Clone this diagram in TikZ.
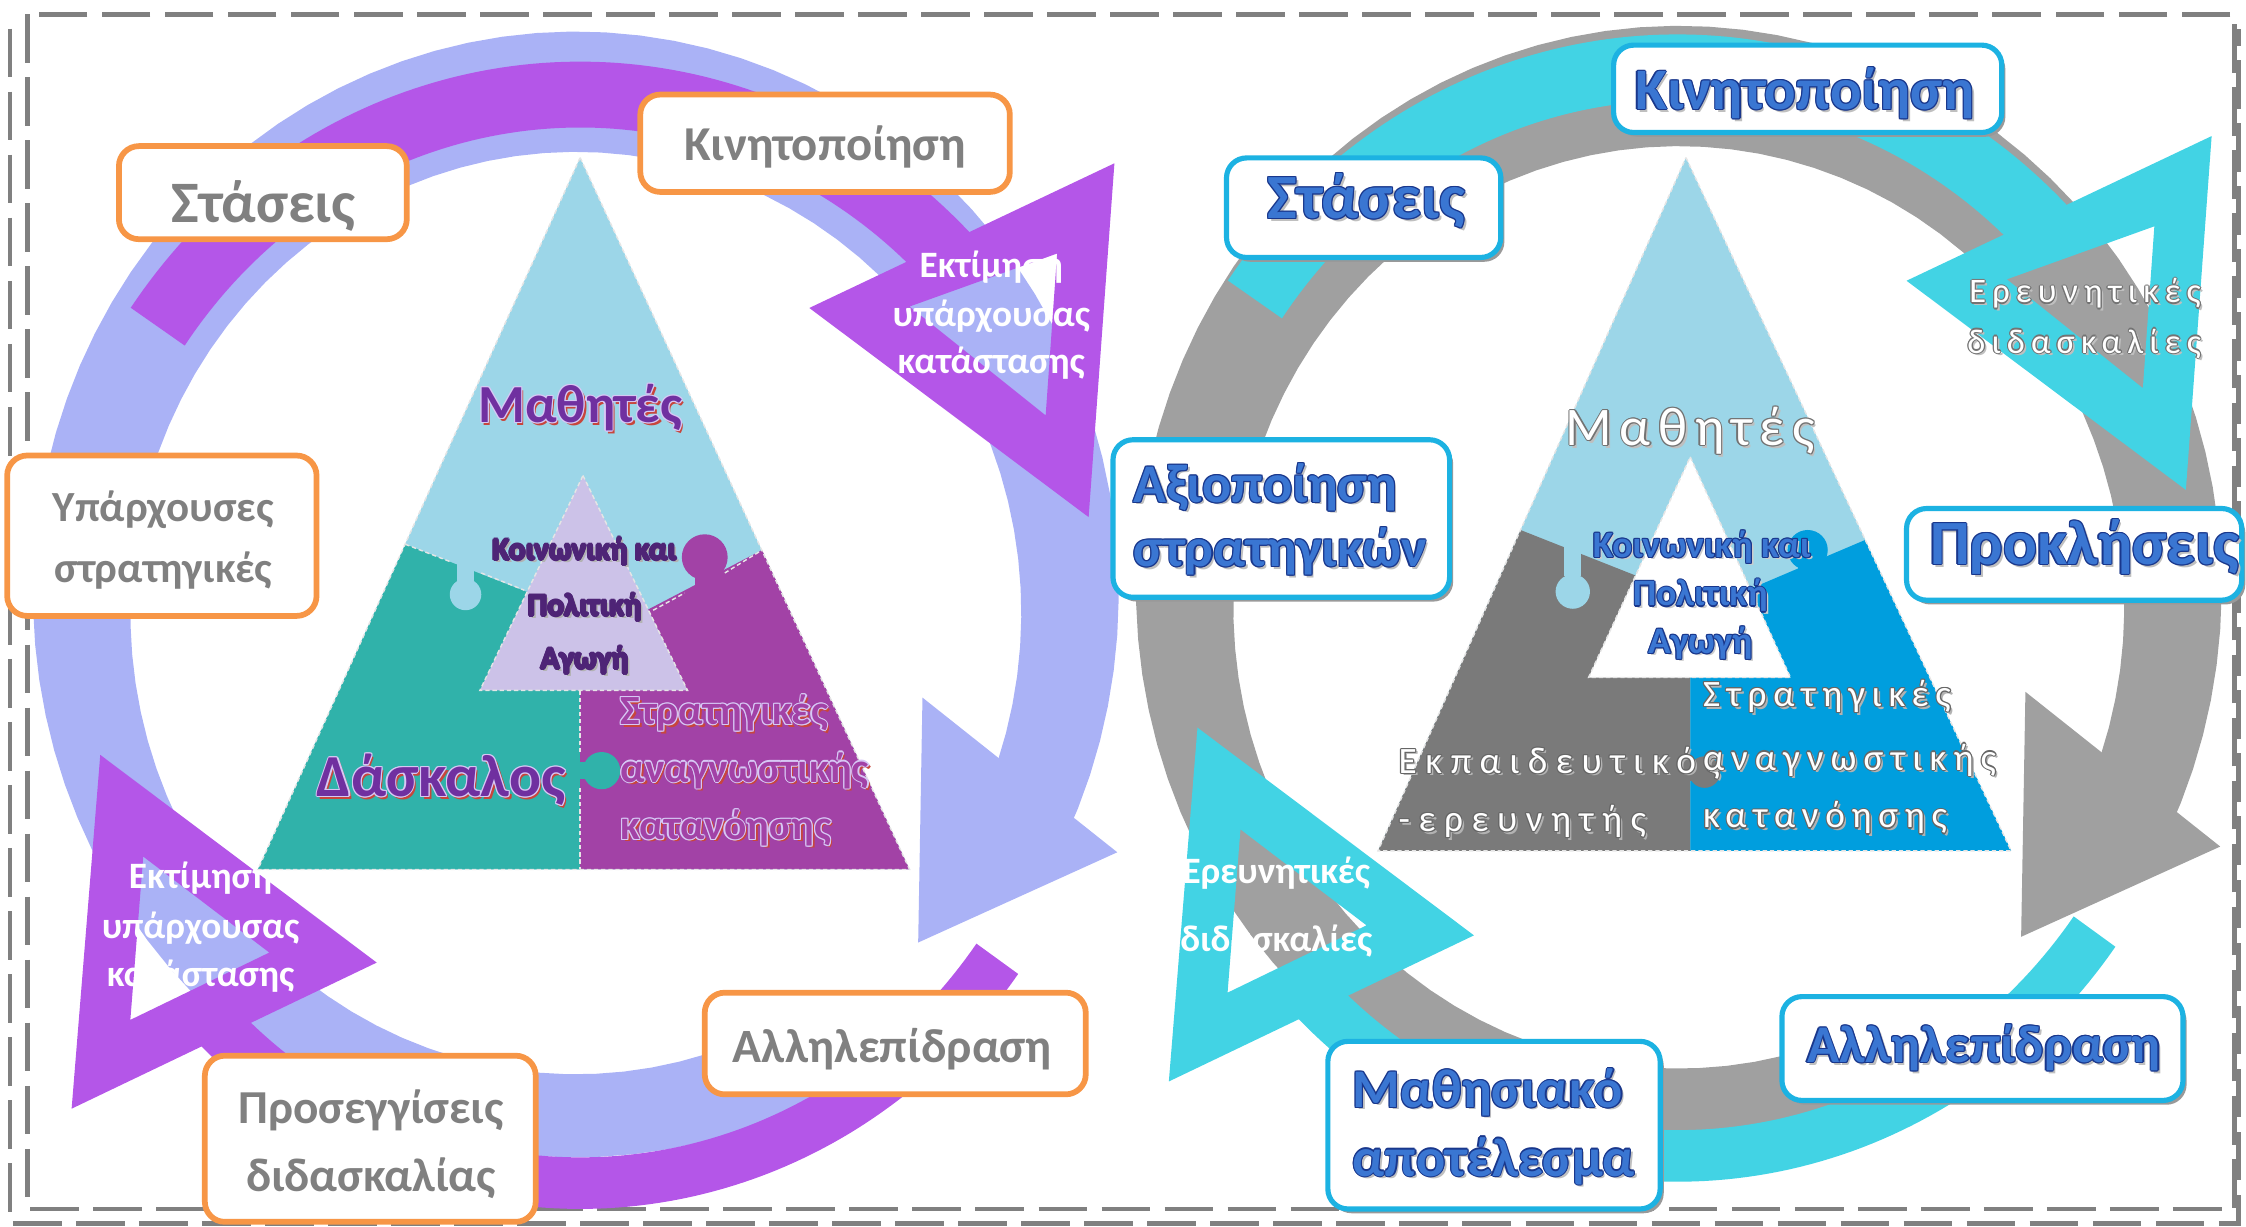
\documentclass[tikz,border=0pt]{standalone}
\usepackage{fontspec}
\setmainfont{Carlito}
\usetikzlibrary{calc}
\definecolor{lav}{RGB}{170,178,246}
\definecolor{purp}{RGB}{180,86,232}
\definecolor{orng}{RGB}{247,150,70}
\definecolor{gtxt}{RGB}{128,128,128}
\definecolor{lblue}{RGB}{156,214,232}
\definecolor{teal1}{RGB}{48,178,170}
\definecolor{purp2}{RGB}{162,66,166}
\definecolor{ilav}{RGB}{204,194,232}
\definecolor{wpurp}{RGB}{112,48,160}
\definecolor{wred}{RGB}{200,70,60}
\definecolor{lavtxt}{RGB}{215,200,245}
\definecolor{dtxt}{RGB}{78,36,118}
\definecolor{ring2}{RGB}{160,160,160}
\definecolor{cyan1}{RGB}{66,211,228}
\definecolor{gpiece}{RGB}{122,122,122}
\definecolor{bpiece}{RGB}{0,158,222}
\definecolor{cbord}{RGB}{28,178,226}
\definecolor{bfill}{RGB}{58,118,210}
\definecolor{bline}{RGB}{25,55,140}
\newcommand\fs[2]{\fontsize{#1}{#2}\selectfont}
% band between an outer and an inner ellipse (common centre x = \bcx)
\newcommand\bandx[9]{\fill[#1] plot[domain=#8:#9,samples=90] ({\bcx+#6*cos(\x)},{#2+#3*sin(\x)}) -- plot[domain=#9:#8,samples=90] ({\bcx+#7*cos(\x)},{#4+#5*sin(\x)}) -- cycle;}
\newcommand\wart[8]{%
 \node[anchor=#2,inner sep=0,font=#4,text=#7] (#1s) at ([shift={(1.8,1.8)}]#3) {#8};
 \foreach \ox/\oy [count=\k] in {-0.8/0,0.8/0,0/-0.8,0/0.8,-0.6/-0.6,0.6/0.6,-0.6/0.6,0.6/-0.6}
  {\node[anchor=#2,inner sep=0,font=#4,text=#6] (#1o\k) at ([shift={(\ox,\oy)}]#3) {#8};}
 \node[anchor=#2,inner sep=0,font=#4,text=#5] (#1) at (#3) {#8};}
\tikzset{
 obox/.style={draw=orng,line width=2pt,fill=white,rounded corners=7pt,inner sep=0},
 rbox/.style={draw=cbord,line width=1.8pt,fill=white,rounded corners=7pt,inner sep=0},
 rshadow/.style={fill=black!40,rounded corners=7pt,inner sep=0},
 piece/.style={draw=white!80!gray,line width=0.5pt,dash pattern=on 1.5pt off 1pt},
 frame/.style={draw=black!50,line width=1.7pt,dash pattern=on 17pt off 5pt},
 gl/.style={anchor=base,inner sep=0,text=gtxt,font=\bfseries\fs{#1}{#1}},
 wl/.style={anchor=base,inner sep=0,text=white,font=\bfseries\fs{#1}{#1}},
}
\newcommand\rbx[5]{\node[rshadow,minimum width=#4,minimum height=#5] (#1s) at (#2+2.5,#3+3) {};
 \node[rbox,minimum width=#4,minimum height=#5] (#1) at (#2,#3) {};}
% the ring with its arrowhead, and the two arcs with hollow heads
\newcommand\ringarrow[1]{%
 \def\bcx{402}
 \bandx{#1}{415}{393}{428}{322}{379}{311}{62}{386}
 \fill[#1] (644,487) -- (780,595) -- (641,658) -- cycle;}
\newcommand\arcarrows[1]{%
 \def\bcx{405}
 \bandx{#1}{446}{403}{446}{357}{383}{337}{215}{316}
 \fill[#1,even odd rule] (565,215) -- (778,114) -- (760,361) -- cycle (635,214) -- (738,177) -- (730,290) -- cycle;
 \bandx{#1}{446}{398}{446}{362}{378}{342}{36}{137}
 \fill[#1,even odd rule] (70,527) -- (263,672) -- (50,774) -- cycle (100,598) -- (188,665) -- (91,712) -- cycle;}
\begin{document}
\begin{tikzpicture}[x=0.5pt,y=-0.5pt]
\useasboundingbox (0,0) rectangle (1568,856);
% frame
\draw[frame] (19,10) rectangle (1560,844);
\draw[frame] (7,20) -- (7,854) -- (1563,854) -- (1563,20);

% ================= LEFT =================
\ringarrow{lav}
\arcarrows{purp}

% pyramid left
\fill[lblue] (405,110) -- (635,607) -- (180,607) -- cycle;
\fill[teal1] (283,380) -- (380,418) -- (405,424) -- (405,607) -- (180,607) -- cycle;
\fill[purp2] (440,432) -- (532,384) -- (635,607) -- (405,607) -- (405,424) -- cycle;
\fill[lblue] (319,390) rectangle (331,408);
\fill[lblue] (325,415) circle[radius=11];
\fill[purp2] (485,392) rectangle (499,410);
\fill[purp2] (492,389) circle[radius=16];
\fill[teal1] (400,532) rectangle (412,544);
\fill[teal1] (420,538) circle[radius=13];
\fill[ilav] (407,332) -- (480,482) -- (335,482) -- cycle;
\draw[piece] (405,110) -- (635,607) -- (180,607) -- cycle;
\draw[piece] (283,380) -- (314,392) (336,400) -- (366,412);
\draw[piece] (456,426) -- (478,414) (506,400) -- (532,384);
\draw[piece] (405,482) -- (405,526) (405,550) -- (405,607);
\draw[piece] (407,332) -- (480,482) -- (335,482) -- cycle;

% boxes left
\node[obox,minimum width=100.5pt,minimum height=32.5pt] (bStL) at (183.5,134.5) {};
\node[obox,minimum width=129pt,minimum height=34pt] (bKinL) at (576,100) {};
\node[obox,minimum width=108pt,minimum height=56pt] (bYpa) at (113,374) {};
\node[obox,minimum width=115.5pt,minimum height=58pt] (bPro) at (258.5,795) {};
\node[obox,minimum width=133pt,minimum height=35.5pt] (bAllL) at (625,728.5) {};
\node[gl=20.5] (tStL) at (184,155) {Στάσεις};
\node[gl=17] (tKinL) at (576,112) {Κινητοποίηση};
\node[gl=15] (tYpa1) at (114,364) {Υπάρχουσες};
\node[gl=15] (tYpa2) at (114,406.6) {στρατηγικές};
\node[gl=16.5] (tPro1) at (259,784) {Προσεγγίσεις};
\node[gl=16.5] (tPro2) at (259,832) {διδασκαλίας};
\node[gl=16.7] (tAllL) at (623,742) {Αλληλεπίδραση};

% arrow labels left
\node[wl=13] (tEkA1) at (692,194) {Εκτίμηση};
\node[wl=13] (tEkA2) at (692,228) {υπάρχουσας};
\node[wl=13] (tEkA3) at (692,261) {κατάστασης};
\node[wl=13] (tEkB1) at (140,620) {Εκτίμηση};
\node[wl=13] (tEkB2) at (140,655) {υπάρχουσας};
\node[wl=13] (tEkB3) at (140,689) {κατάστασης};

% pyramid texts left
\wart{tMathL}{base}{405,295}{\bfseries\fs{18.7}{22}}{wpurp}{lavtxt}{wred}{Μαθητές}
\wart{tDask}{base}{308,556}{\bfseries\fs{20.8}{24}}{wpurp}{lavtxt}{wred}{Δάσκαλος}
\wart{tStrL1}{base west}{433,506}{\bfseries\fs{14.5}{17}}{purp2}{lavtxt}{wred}{Στρατηγικές}
\wart{tStrL2}{base west}{433,546}{\bfseries\fs{14.5}{17}}{purp2}{lavtxt}{wred}{αναγνωστικής}
\wart{tStrL3}{base west}{433,586}{\bfseries\fs{14.5}{17}}{purp2}{lavtxt}{wred}{κατανόησης}
\wart{tKoiL1}{base}{408,391}{\bfseries\fs{11}{13}}{dtxt}{dtxt}{black!30}{Κοινωνική και}
\wart{tKoiL2}{base}{408,430}{\bfseries\fs{11}{13}}{dtxt}{dtxt}{black!30}{Πολιτική}
\wart{tKoiL3}{base}{408,467}{\bfseries\fs{11}{13}}{dtxt}{dtxt}{black!30}{Αγωγή}

% ================= RIGHT =================
\begin{scope}[shift={(770,-4)}]
\ringarrow{ring2}
\end{scope}
\begin{scope}[shift={(766,-19)}]
\arcarrows{cyan1}
\end{scope}

% pyramid right
\fill[lblue] (1177,110) -- (1404,594) -- (962,594) -- cycle;
\fill[gpiece] (1061.5,370) -- (1150,405) -- (1180,412) -- (1180,594) -- (962,594) -- cycle;
\fill[bpiece] (1215,414) -- (1302,377) -- (1404,594) -- (1180,594) -- (1180,414) -- cycle;
\fill[lblue] (1092,382) rectangle (1104,402);
\fill[lblue] (1098,413) circle[radius=12];
\fill[bpiece] (1255,388) rectangle (1269,400);
\fill[bpiece] (1262,384) circle[radius=14];
\fill[gpiece] (1176,533) rectangle (1186,545);
\fill[gpiece] (1190,539) circle[radius=11];
\fill[white] (1180,319) -- (1250,473) -- (1109,473) -- cycle;
\draw[piece] (1177,110) -- (1404,594) -- (962,594) -- cycle;
\draw[piece] (1180,319) -- (1250,473) -- (1109,473) -- cycle;

% boxes right
\rbx{bKinR}{1262}{62}{135.5pt}{30.5pt}
\rbx{bStR}{952}{145}{95.75pt}{34.75pt}
\rbx{bAxi}{894.5}{362}{117.5pt}{55pt}
\rbx{bPrk}{1448}{387}{117pt}{32pt}
\rbx{bAllR}{1384}{732}{140pt}{36.25pt}
\rbx{bMat}{1043}{785.5}{116pt}{58.5pt}
\wart{tKinR}{base}{1260,76.4}{\bfseries\fs{20.5}{24}}{bfill}{bline}{black!25}{Κινητοποίηση}
\wart{tStR}{base}{954,152.7}{\bfseries\fs{22}{24}}{bfill}{bline}{black!25}{Στάσεις}
\wart{tAxi1}{base west}{791,350.6}{\bfseries\fs{19}{24}}{bfill}{bline}{black!25}{Αξιοποίηση}
\wart{tAxi2}{base west}{791,395.7}{\bfseries\fs{19}{24}}{bfill}{bline}{black!25}{στρατηγικών}
\wart{tPrk}{base west}{1347,394.3}{\bfseries\fs{22}{26}}{bfill}{bline}{black!25}{Προκλήσεις}
\wart{tAllR}{base}{1385,742}{\bfseries\fs{18.5}{24}}{bfill}{bline}{black!25}{Αλληλεπίδραση}
\wart{tMat1}{base west}{944,773}{\bfseries\fs{19}{24}}{bfill}{bline}{black!25}{Μαθησιακό}
\wart{tMat2}{base west}{944,821}{\bfseries\fs{19}{24}}{bfill}{bline}{black!25}{αποτέλεσμα}

% pyramid texts right
\wart{tMathR}{base}{1180,311}{\fs{19}{23}\addfontfeatures{LetterSpace=14}}{white}{black!55}{black!25}{Μαθητές}
\wart{tKoiR1}{base}{1188,389}{\bfseries\fs{13}{15}}{bfill}{bline}{black!20}{Κοινωνική και}
\wart{tKoiR2}{base}{1187,423}{\bfseries\fs{13}{15}}{bfill}{bline}{black!20}{Πολιτική}
\wart{tKoiR3}{base}{1187,456}{\bfseries\fs{13}{15}}{bfill}{bline}{black!20}{Αγωγή}
\wart{tEkp1}{base west}{976,539.8}{\fs{13}{15}\addfontfeatures{LetterSpace=23}}{white}{black!60}{black!30}{Εκπαιδευτικός}
\wart{tEkp2}{base west}{976,580.6}{\fs{13}{15}\addfontfeatures{LetterSpace=23}}{white}{black!60}{black!30}{-ερευνητής}
\wart{tStrR1}{base west}{1188.5,493.4}{\fs{13}{15}\addfontfeatures{LetterSpace=18}}{white}{black!60}{black!30}{Στρατηγικές}
\wart{tStrR2}{base west}{1188.5,537.6}{\fs{13}{15}\addfontfeatures{LetterSpace=19}}{white}{black!60}{black!30}{αναγνωστικής}
\wart{tStrR3}{base west}{1188.5,578}{\fs{13}{15}\addfontfeatures{LetterSpace=18}}{white}{black!60}{black!30}{κατανόησης}
\wart{tErTR1}{base}{1455.6,211.5}{\fs{12}{14}\addfontfeatures{LetterSpace=18}}{white}{black!55}{black!25}{Ερευνητικές}
\wart{tErTR2}{base}{1455,246.5}{\fs{12}{14}\addfontfeatures{LetterSpace=18}}{white}{black!55}{black!25}{διδασκαλίες}
\node[wl=13] (tErBL1) at (891,616.5) {Ερευνητικές};
\node[wl=13] (tErBL2) at (891,664.2) {διδασκαλίες};
\end{tikzpicture}
\end{document}
